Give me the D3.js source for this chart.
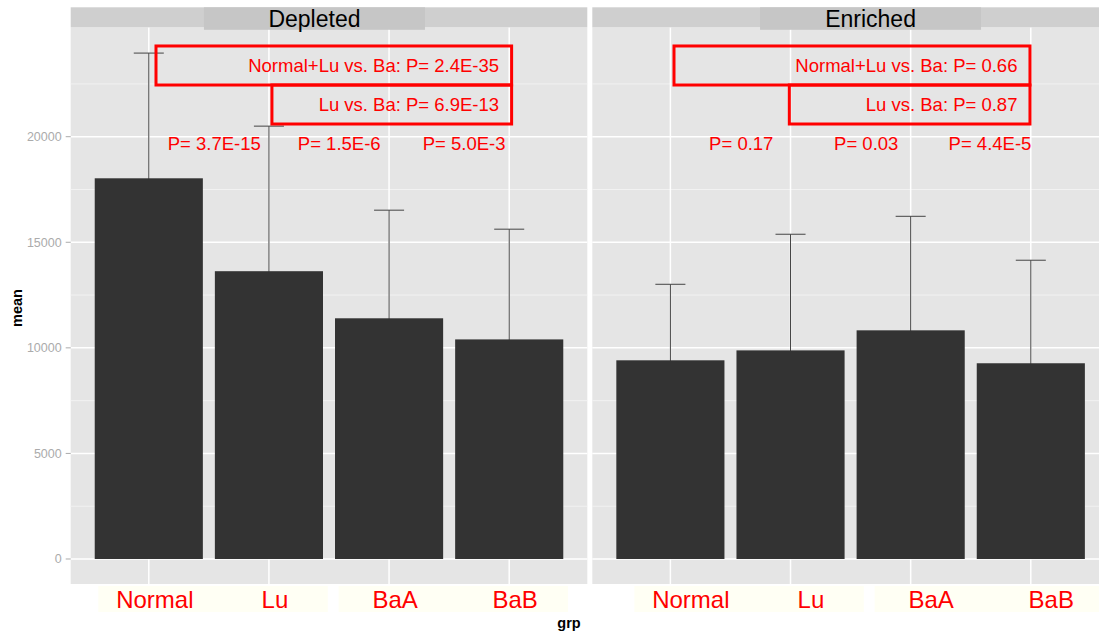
<!DOCTYPE html>
<html>
<head>
<meta charset="utf-8">
<script src="https://cdn.jsdelivr.net/npm/d3@7"></script>
<style>
  body { margin: 0; background: #fff; }
  svg { display: block; font-family: "Liberation Sans", Arial, sans-serif; }
</style>
</head>
<body>
<svg id="chart"></svg>
<script>
var WIDTH = 1099;
var HEIGHT = 634;

// data
var groups = ['Normal', 'Lu', 'BaA', 'BaB'];
var facets = ['Depleted', 'Enriched'];
var depletedMean = [18030, 13630, 11400, 10400];
var depletedUpper = [23960, 20500, 16520, 15620];
var enrichedMean = [9410, 9880, 10830, 9270];
var enrichedUpper = [13010, 15380, 16230, 14150];
var depletedPairP = ['P= 3.7E-15', 'P= 1.5E-6', 'P= 5.0E-3'];
var enrichedPairP = ['P= 0.17', 'P= 0.03', 'P= 4.4E-5'];
var depletedTests = ['Normal+Lu vs. Ba: P= 2.4E-35', 'Lu vs. Ba: P= 6.9E-13'];
var enrichedTests = ['Normal+Lu vs. Ba: P= 0.66', 'Lu vs. Ba: P= 0.87'];
var yTicks = [0, 5000, 10000, 15000, 20000];
var yMinor = [2500, 7500, 12500, 17500, 22500];

var panelData = [
  { name: facets[0], mean: depletedMean, upper: depletedUpper, pairs: depletedPairP, tests: depletedTests },
  { name: facets[1], mean: enrichedMean, upper: enrichedUpper, pairs: enrichedPairP, tests: enrichedTests }
];

// layout (pixels / data units for annotations)
var panelLeft = [70.7, 592.3];
var panelW = 516.6;
var stripTop = 7.3, panelTop = 27.3, panelBottom = 584;
var layout = [
  { pairX: [1.545, 2.585, 3.625], box1: [1.06, 4.02], box2: [2.025, 4.02], labDx: 0.05, stripC: 2.379 },
  { pairX: [1.59, 2.63, 3.66], box1: [1.03, 3.993], box2: [1.99, 3.993], labDx: 0.17, stripC: 2.666 }
];

var svg = d3.select('#chart').attr('width', WIDTH).attr('height', HEIGHT);

var yScale = d3.scaleLinear().domain([-1184, 25181]).range([panelBottom, panelTop]);

panelData.forEach(function(p, k) {
  var xScale = d3.scaleLinear().domain([0.35, 4.65]).range([panelLeft[k], panelLeft[k] + panelW]);
  var unit = xScale(1) - xScale(0);
  var g = svg.append('g');

  g.append('rect')
    .attr('x', panelLeft[k]).attr('y', panelTop)
    .attr('width', panelW).attr('height', panelBottom - panelTop)
    .attr('fill', '#e5e5e5');

  g.selectAll('line.minor').data(yMinor).enter().append('line')
    .attr('x1', panelLeft[k]).attr('x2', panelLeft[k] + panelW)
    .attr('y1', function(d) { return yScale(d); })
    .attr('y2', function(d) { return yScale(d); })
    .attr('stroke', '#f2f2f2').attr('stroke-width', 1);

  g.selectAll('line.major').data(yTicks).enter().append('line')
    .attr('x1', panelLeft[k]).attr('x2', panelLeft[k] + panelW)
    .attr('y1', function(d) { return yScale(d); })
    .attr('y2', function(d) { return yScale(d); })
    .attr('stroke', '#fff').attr('stroke-width', 1.5);

  g.selectAll('line.vgrid').data(groups).enter().append('line')
    .attr('x1', function(d, i) { return xScale(i + 1); })
    .attr('x2', function(d, i) { return xScale(i + 1); })
    .attr('y1', panelTop).attr('y2', panelBottom)
    .attr('stroke', '#fff').attr('stroke-width', 1.5);

  // strip
  g.append('rect')
    .attr('x', panelLeft[k]).attr('y', stripTop)
    .attr('width', panelW).attr('height', panelTop - stripTop)
    .attr('fill', '#cfcfcf');
  var sc = xScale(layout[k].stripC);
  g.append('rect')
    .attr('x', sc - 110.5).attr('y', stripTop).attr('width', 221).attr('height', 22.5)
    .attr('fill', '#c6c6c6');
  g.append('text')
    .attr('x', sc).attr('y', 27)
    .attr('text-anchor', 'middle')
    .style('font-size', '23px').attr('fill', '#000')
    .text(p.name);

  // error bars (drawn first, bars cover the lower half)
  var eb = g.selectAll('g.eb').data(groups).enter().append('g');
  eb.append('line')
    .attr('x1', function(d, i) { return xScale(i + 1); })
    .attr('x2', function(d, i) { return xScale(i + 1); })
    .attr('y1', function(d, i) { return yScale(2 * p.mean[i] - p.upper[i]); })
    .attr('y2', function(d, i) { return yScale(p.upper[i]); })
    .attr('stroke', '#444').attr('stroke-width', 1);
  eb.append('line')
    .attr('x1', function(d, i) { return xScale(i + 1 - 0.125); })
    .attr('x2', function(d, i) { return xScale(i + 1 + 0.125); })
    .attr('y1', function(d, i) { return yScale(p.upper[i]); })
    .attr('y2', function(d, i) { return yScale(p.upper[i]); })
    .attr('stroke', '#444').attr('stroke-width', 1);

  g.selectAll('rect.bar').data(groups).enter().append('rect')
    .attr('x', function(d, i) { return xScale(i + 1 - 0.45); })
    .attr('width', 0.9 * unit)
    .attr('y', function(d, i) { return yScale(p.mean[i]); })
    .attr('height', function(d, i) { return yScale(0) - yScale(p.mean[i]); })
    .attr('fill', '#333333');

  // pairwise p values
  g.selectAll('text.pp').data(p.pairs).enter().append('text')
    .attr('x', function(d, i) { return xScale(layout[k].pairX[i]); })
    .attr('y', yScale(19700))
    .attr('dy', '0.35em')
    .attr('text-anchor', 'middle')
    .style('font-size', '18.5px').attr('fill', '#ff0000')
    .text(function(d) { return d; });

  // boxed tests
  var boxes = [
    { x: layout[k].box1, y: [24296, 22448], t: p.tests[0] },
    { x: layout[k].box2, y: [22448, 20601], t: p.tests[1] }
  ];
  boxes.forEach(function(b) {
    g.append('rect')
      .attr('x', xScale(b.x[0])).attr('y', yScale(b.y[0]))
      .attr('width', xScale(b.x[1]) - xScale(b.x[0]))
      .attr('height', yScale(b.y[1]) - yScale(b.y[0]))
      .attr('fill', 'none').attr('stroke', '#ff0000').attr('stroke-width', 3);
    g.append('text')
      .attr('x', xScale(b.x[1]) - 12.5)
      .attr('y', (yScale(b.y[0]) + yScale(b.y[1])) / 2)
      .attr('dy', '0.35em')
      .attr('text-anchor', 'end')
      .style('font-size', '18.5px').attr('fill', '#ff0000')
      .text(b.t);
  });

  // x labels with their light boxes
  var dx = layout[k].labDx;
  [[1, 2], [3, 4]].forEach(function(pr) {
    g.append('rect')
      .attr('x', xScale(pr[0] + dx - 0.47)).attr('y', 586)
      .attr('width', xScale(pr[1] + dx + 0.44) - xScale(pr[0] + dx - 0.47))
      .attr('height', 26)
      .attr('fill', '#fffff4');
  });
  g.selectAll('text.xl').data(groups).enter().append('text')
    .attr('x', function(d, i) { return xScale(i + 1 + dx); })
    .attr('y', 608)
    .attr('text-anchor', 'middle')
    .style('font-size', '24px').attr('fill', '#ff0000')
    .text(function(d) { return d; });
});

// y axis (left panel only)
var yAxis = svg.append('g');
yAxis.selectAll('line').data(yTicks).enter().append('line')
  .attr('x1', panelLeft[0] - 5).attr('x2', panelLeft[0])
  .attr('y1', function(d) { return yScale(d); })
  .attr('y2', function(d) { return yScale(d); })
  .attr('stroke', '#ababab').attr('stroke-width', 1);
yAxis.selectAll('text').data(yTicks).enter().append('text')
  .attr('x', panelLeft[0] - 9)
  .attr('y', function(d) { return yScale(d); })
  .attr('dy', '0.35em')
  .attr('text-anchor', 'end')
  .style('font-size', '12.5px').attr('fill', '#ababab')
  .text(function(d) { return d; });

svg.append('text')
  .attr('transform', 'translate(22,308) rotate(-90)')
  .attr('text-anchor', 'middle')
  .style('font-size', '14.5px').style('font-weight', 'bold')
  .text('mean');

svg.append('text')
  .attr('x', 569).attr('y', 628)
  .attr('text-anchor', 'middle')
  .style('font-size', '14.5px').style('font-weight', 'bold')
  .text('grp');
</script>
</body>
</html>
